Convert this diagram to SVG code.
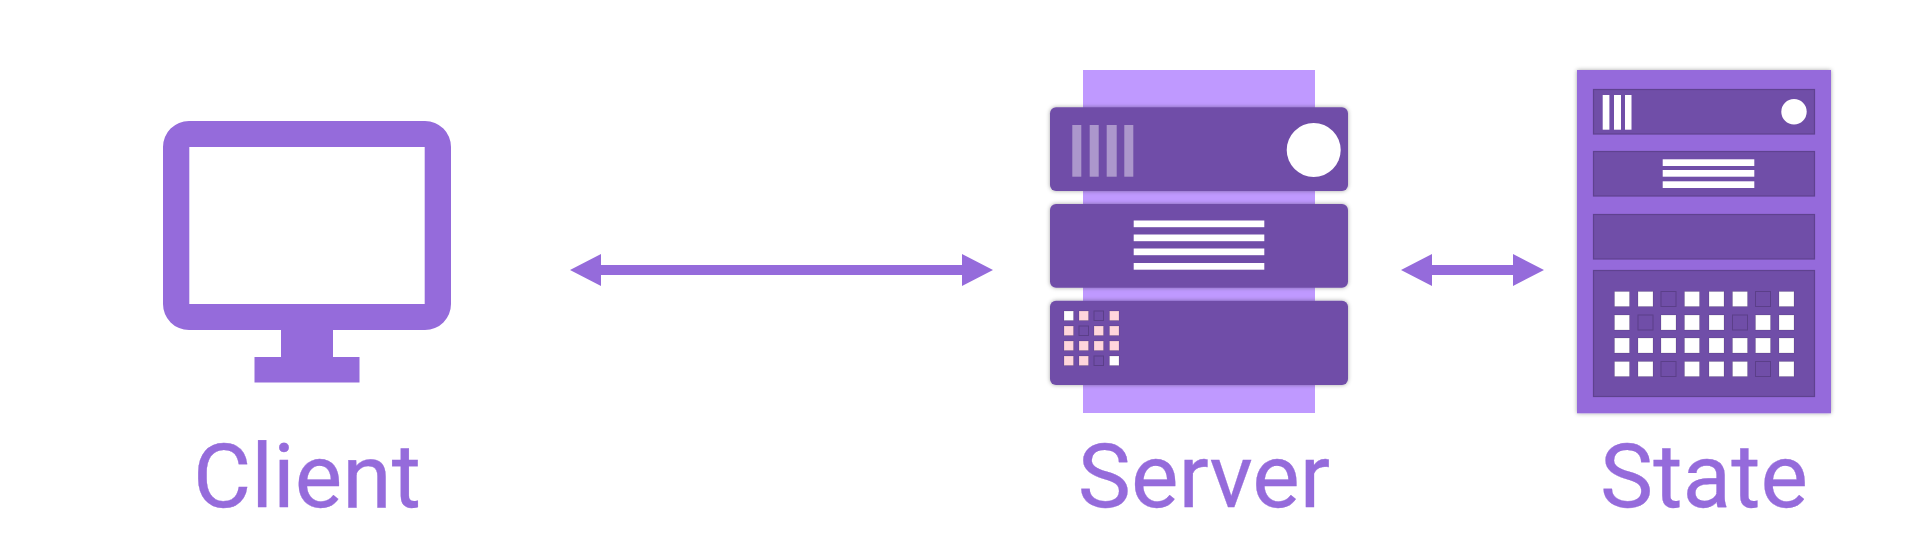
<svg xmlns="http://www.w3.org/2000/svg" width="1920" height="540" viewBox="0 0 1920 540">
<defs>
<filter id="sh" x="-5%" y="-10%" width="110%" height="120%"><feDropShadow dx="0" dy="0" stdDeviation="2" flood-color="#000" flood-opacity="0.35"/></filter>
</defs>
<style>
.p{fill:#956bdb}
.sp{fill:#704ea8;filter:url(#sh)}
.bar{fill:#fff;fill-opacity:.42}
.w{fill:#fff}
.k{fill:#ffd5dc;stroke:#000;stroke-opacity:.12;stroke-width:1}
.kw{fill:#fff;stroke:#000;stroke-opacity:.12;stroke-width:1}
.d{fill:#704ea8;stroke:#000;stroke-opacity:.18;stroke-width:1}
.sq{fill:#fff;stroke:#000;stroke-opacity:.12;stroke-width:1}
.stp{fill:#704ea8;stroke:#5f4290;stroke-width:1.2}
text{font-family:Roboto,"Liberation Sans",sans-serif;font-size:89.500px;fill:#956bdb;stroke:#956bdb;stroke-width:.3;text-anchor:middle}
</style>
<rect width="1920" height="540" fill="#fff"/>
<g id="client">
<path class="p" fill-rule="evenodd" d="M189 121H425A26 26 0 0 1 451 147V304A26 26 0 0 1 425 330H333V357H359.500V382.500H254.500V357H281V330H189A26 26 0 0 1 163 304V147A26 26 0 0 1 189 121ZM189.300 147V304H424.700V147Z"/>
<text x="307" y="506.500">Client</text>
</g>
<g id="connectors">
<path id="c1" class="p" d="M570 270L601 254V265H962V254L993 270L962 286V275H601V286Z"/>
<path id="c2" class="p" d="M1401 270L1432 254V265H1513V254L1544 270L1513 286V275H1432V286Z"/>
</g>
<g id="server">
<rect x="1083" y="70" width="232" height="343" fill="#bf99ff"/>
<rect class="sp" x="1050" y="107.300" width="298" height="83.700" rx="6"/>
<rect class="sp" x="1050" y="204" width="298" height="83.700" rx="6"/>
<rect class="sp" x="1050" y="300.700" width="298" height="84.300" rx="6"/>
<rect class="bar" x="1072.300" y="125" width="9" height="51.700"/>
<rect class="bar" x="1089.700" y="125" width="9" height="51.700"/>
<rect class="bar" x="1106.700" y="125" width="10" height="51.700"/>
<rect class="bar" x="1124.300" y="125" width="9" height="51.700"/>
<circle class="w" cx="1313.700" cy="150" r="27"/>
<rect class="w" x="1133.700" y="220.500" width="130.600" height="6.700"/>
<rect class="w" x="1133.700" y="234.500" width="130.600" height="6.700"/>
<rect class="w" x="1133.700" y="248.500" width="130.600" height="6.700"/>
<rect class="w" x="1133.700" y="263" width="130.600" height="6.700"/>
<rect class="kw" x="1064" y="311" width="9.500" height="9.500"/><rect class="k" x="1079" y="311" width="9.500" height="9.500"/><rect class="d" x="1094" y="311" width="9.500" height="9.500"/><rect class="k" x="1109.500" y="311" width="9.500" height="9.500"/>
<rect class="k" x="1064" y="326" width="9.500" height="9.500"/><rect class="d" x="1079" y="326" width="9.500" height="9.500"/><rect class="k" x="1094" y="326" width="9.500" height="9.500"/><rect class="k" x="1109.500" y="326" width="9.500" height="9.500"/>
<rect class="k" x="1064" y="341" width="9.500" height="9.500"/><rect class="k" x="1079" y="341" width="9.500" height="9.500"/><rect class="k" x="1094" y="341" width="9.500" height="9.500"/><rect class="k" x="1109.500" y="341" width="9.500" height="9.500"/>
<rect class="k" x="1064" y="356" width="9.500" height="9.500"/><rect class="k" x="1079" y="356" width="9.500" height="9.500"/><rect class="d" x="1094" y="356" width="9.500" height="9.500"/><rect class="kw" x="1109.500" y="356" width="9.500" height="9.500"/>
<text x="1204" y="506.500">Server</text>
</g>
<g id="state">
<rect class="p" x="1577" y="70" width="254" height="343.300" filter="url(#sh)"/>
<rect class="stp" x="1593.500" y="89.500" width="221" height="44.500"/>
<rect class="stp" x="1593.500" y="151.500" width="221" height="44.500"/>
<rect class="stp" x="1593.500" y="214.500" width="221" height="44.500"/>
<rect class="stp" x="1593.500" y="270.500" width="221" height="126"/>
<rect class="w" x="1602.700" y="95" width="6.700" height="34.700"/>
<rect class="w" x="1614" y="95" width="7" height="34.700"/>
<rect class="w" x="1625" y="95" width="6.500" height="34.700"/>
<circle class="w" cx="1794" cy="111.700" r="12.700"/>
<rect class="w" x="1662.700" y="159.300" width="91.600" height="6.700"/>
<rect class="w" x="1662.700" y="170" width="91.600" height="6.700"/>
<rect class="w" x="1662.700" y="181.300" width="91.600" height="6.700"/>
<g>
<rect class="sq" x="1614.500" y="291.500" width="15" height="15"/><rect class="sq" x="1638" y="291.500" width="15" height="15"/><rect class="d" x="1661" y="291.500" width="15" height="15"/><rect class="sq" x="1684.500" y="291.500" width="15" height="15"/><rect class="sq" x="1709" y="291.500" width="15" height="15"/><rect class="sq" x="1732.500" y="291.500" width="15" height="15"/><rect class="d" x="1755.500" y="291.500" width="15" height="15"/><rect class="sq" x="1779" y="291.500" width="15" height="15"/>
<rect class="sq" x="1614.500" y="315" width="15" height="15"/><rect class="d" x="1638" y="315" width="15" height="15"/><rect class="sq" x="1661" y="315" width="15" height="15"/><rect class="sq" x="1684.500" y="315" width="15" height="15"/><rect class="sq" x="1709" y="315" width="15" height="15"/><rect class="d" x="1732.500" y="315" width="15" height="15"/><rect class="sq" x="1755.500" y="315" width="15" height="15"/><rect class="sq" x="1779" y="315" width="15" height="15"/>
<rect class="sq" x="1614.500" y="338" width="15" height="15"/><rect class="sq" x="1638" y="338" width="15" height="15"/><rect class="sq" x="1661" y="338" width="15" height="15"/><rect class="sq" x="1684.500" y="338" width="15" height="15"/><rect class="sq" x="1709" y="338" width="15" height="15"/><rect class="sq" x="1732.500" y="338" width="15" height="15"/><rect class="sq" x="1755.500" y="338" width="15" height="15"/><rect class="sq" x="1779" y="338" width="15" height="15"/>
<rect class="sq" x="1614.500" y="361.500" width="15" height="15"/><rect class="sq" x="1638" y="361.500" width="15" height="15"/><rect class="d" x="1661" y="361.500" width="15" height="15"/><rect class="sq" x="1684.500" y="361.500" width="15" height="15"/><rect class="sq" x="1709" y="361.500" width="15" height="15"/><rect class="sq" x="1732.500" y="361.500" width="15" height="15"/><rect class="d" x="1755.500" y="361.500" width="15" height="15"/><rect class="sq" x="1779" y="361.500" width="15" height="15"/>
</g>
<text x="1704" y="506.500">State</text>
</g>
</svg>
